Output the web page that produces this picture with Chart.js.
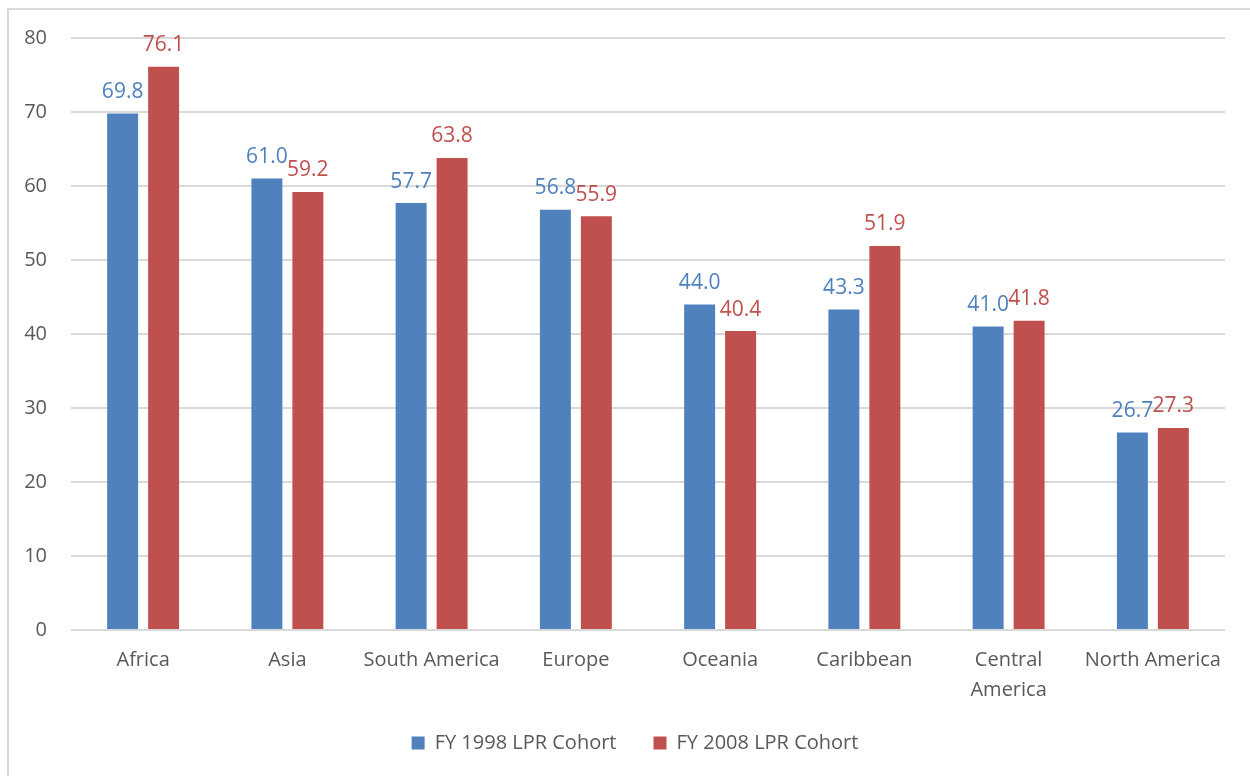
<!DOCTYPE html>
<html>
<head>
<meta charset="utf-8">
<script src="https://cdn.jsdelivr.net/npm/chart.js@4/dist/chart.umd.min.js"></script>
<style>
  html, body { margin: 0; padding: 0; background: #ffffff; }
  #wrap { position: relative; width: 1250px; height: 776px; overflow: hidden; }
  #frame { position: absolute; left: 7px; top: 8px; width: 1300px; height: 800px;
           border-left: 2px solid #d9d9d9; border-top: 2px solid #d9d9d9; pointer-events: none; }
  canvas { position: absolute; left: 0; top: 0; }
</style>
</head>
<body>
<div id="wrap">
  <canvas id="chart" width="1250" height="776"></canvas>
  <div id="frame"></div>
</div>
<script>
// Regions of origin
const regions = ['Africa', 'Asia', 'South America', 'Europe', 'Oceania', 'Caribbean', ['Central', 'America'], 'North America'];
// Percentages per cohort
const cohort1998 = [69.8, 61.0, 57.7, 56.8, 44.0, 43.3, 41.0, 26.7];
const cohort2008 = [76.1, 59.2, 63.8, 55.9, 40.4, 51.9, 41.8, 27.3];
const seriesNames = ['FY 1998 LPR Cohort', 'FY 2008 LPR Cohort'];
const yTicks = [0, 10, 20, 30, 40, 50, 60, 70, 80];

const BLUE = '#4f81bd';
const RED = '#c0504d';
const TEXT = '#595959';
const FONT = "'Open Sans', sans-serif";

// Writes each bar's value just above it, in the bar's colour
const valueLabels = {
  id: 'valueLabels',
  afterDatasetsDraw(chart) {
    const ctx = chart.ctx;
    ctx.save();
    ctx.font = '21px ' + FONT;
    ctx.textAlign = 'center';
    ctx.textBaseline = 'bottom';
    chart.data.datasets.forEach((ds, i) => {
      const meta = chart.getDatasetMeta(i);
      ctx.fillStyle = ds.backgroundColor;
      meta.data.forEach((bar, j) => {
        ctx.fillText(ds.data[j].toFixed(1), bar.x, bar.y - 11);
      });
    });
    ctx.restore();
  }
};

// Centres the legend under the whole frame rather than under the padded box
const legendShift = {
  id: 'legendShift',
  afterLayout(chart) {
    if (chart.legend) { chart.legend.left += 45; }
  }
};

new Chart(document.getElementById('chart'), {
  type: 'bar',
  data: {
    labels: regions,
    datasets: [
      { label: seriesNames[0], data: cohort1998, backgroundColor: BLUE },
      { label: seriesNames[1], data: cohort2008, backgroundColor: RED }
    ]
  },
  options: {
    responsive: false,
    animation: false,
    datasets: { bar: { categoryPercentage: 0.568, barPercentage: 0.756 } },
    layout: { padding: { left: 0, right: 25, top: 38, bottom: 13 } },
    scales: {
      x: {
        grid: { display: false },
        border: { display: false },
        ticks: { color: TEXT, font: { family: FONT, size: 20, lineHeight: 1.5 }, padding: 7, maxRotation: 0, autoSkip: false },
        afterFit(scale) { scale.height = 66; }
      },
      y: {
        min: 0, max: 80,
        afterBuildTicks(scale) { scale.ticks = yTicks.map(v => ({ value: v })); },
        grid: { color: '#d9d9d9', lineWidth: 2, drawTicks: false },
        border: { display: false },
        ticks: { color: TEXT, font: { family: FONT, size: 20 }, padding: 24 },
        afterFit(scale) { scale.width = 71; }
      }
    },
    plugins: {
      legend: {
        position: 'bottom',
        labels: { color: TEXT, font: { family: FONT, size: 20 }, boxWidth: 13, boxHeight: 13, padding: 37 }
      },
      tooltip: { enabled: false }
    }
  },
  plugins: [valueLabels, legendShift]
});
</script>
</body>
</html>
